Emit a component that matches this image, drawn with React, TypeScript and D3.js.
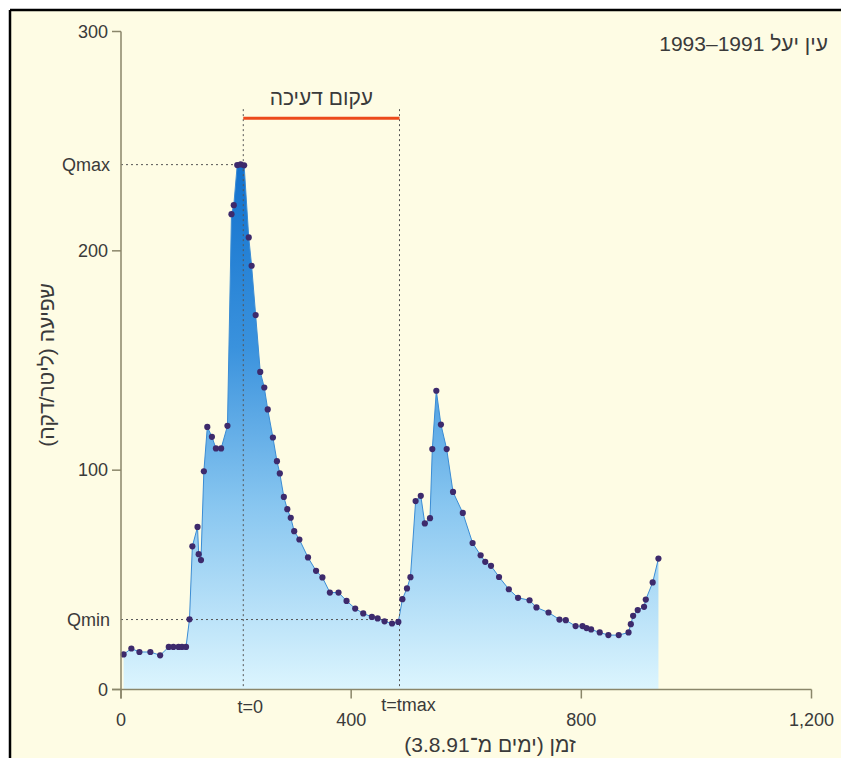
import React from 'react';
import * as d3 from 'd3';

// Days since 3.8.91
const days = [
  4.5, 18, 32, 51, 68, 83, 91, 100, 106, 113,
  119, 124, 133, 135, 139, 144, 150, 158, 165, 174,
  185, 192, 196, 202, 208, 214, 222, 227, 234, 242,
  249, 255, 264, 271, 276, 283, 289, 295, 301, 310,
  325, 339, 350, 363, 378, 392, 407, 421, 436, 446,
  458, 471, 482, 489, 497, 503, 512, 521, 528, 537,
  541, 548, 556, 566, 577, 594, 611, 625, 633, 643,
  657, 674, 690, 710, 722, 743, 762, 773, 790, 802,
  809, 817, 832, 847, 865, 882, 886, 890, 898, 909,
  912, 924, 934,
];
// Discharge (litre / minute)
const flows = [
  16.0, 18.7, 17.1, 17.1, 15.6, 19.4, 19.4, 19.4, 19.4, 19.4,
  32.0, 65.3, 74.1, 61.7, 59.0, 99.5, 119.7, 115.2, 109.9, 109.9,
  120.2, 216.7, 220.8, 239.1, 239.4, 239.0, 206.1, 193.2, 170.7, 144.8,
  137.7, 127.7, 114.9, 104.1, 98.5, 87.8, 82.2, 78.3, 72.2, 68.4,
  60.2, 54.1, 51.1, 44.2, 44.2, 40.4, 36.9, 34.7, 33.1, 32.4,
  31.1, 30.1, 30.8, 41.2, 46.1, 51.2, 85.9, 88.3, 75.7, 78.1,
  109.6, 136.2, 120.8, 109.6, 90.1, 80.5, 66.8, 61.2, 58.2, 56.4,
  51.3, 45.7, 41.8, 40.7, 37.4, 35.1, 31.9, 31.6, 28.9, 28.9,
  28.0, 27.4, 26.0, 24.8, 24.8, 26.0, 29.8, 33.6, 36.2, 37.7,
  41.0, 48.8, 59.7,
];

const xTicks = [0, 400, 800, 1200];
const xTickLabels = ['0', '400', '800', '1,200'];
const yTicks = [0, 100, 200, 300];
const yTickLabels = ['0', '100', '200', '300'];

const qMax = 239.3;
const qMin = 31.9;
const t0 = 212.5;
const tMax = 484;
const decayLevel = 260.5;

const title = 'עין יעל 1991–1993';
const decayLabel = 'עקום דעיכה';
const xTitle = 'זמן (ימים מ־3.8.91)';
const yTitle = 'שפיעה (ליטר/דקה)';

const FONT = '"Liberation Sans Narrow", "Liberation Sans", Arial, sans-serif';
const HFONT = '"Liberation Sans", "DejaVu Sans", Arial, sans-serif';
const TXT = '#3a3a3a';
const AXIS = '#8a866a';

export default function App() {
  const W = 841;
  const H = 758;
  const x = d3.scaleLinear().domain([0, 1200]).range([121, 811.5]);
  const y = d3.scaleLinear().domain([0, 300]).range([689.5, 31.5]);
  const data = days.map((d, i) => ({ d, q: flows[i] }));

  const area = d3
    .area<{ d: number; q: number }>()
    .x((p) => x(p.d))
    .y0(y(0))
    .y1((p) => y(p.q));
  const line = d3
    .line<{ d: number; q: number }>()
    .x((p) => x(p.d))
    .y((p) => y(p.q));

  const tick = 9;

  return (
    <svg
      width={W}
      height={H}
      style={{ position: 'absolute', left: 0, top: 0, display: 'block' }}
    >
      <defs>
        <linearGradient
          id="flowGrad"
          gradientUnits="userSpaceOnUse"
          x1={0}
          x2={0}
          y1={y(240)}
          y2={y(0)}
        >
          <stop offset="0%" stopColor="#1271cd" />
          <stop offset="35%" stopColor="#3a92dd" />
          <stop offset="65%" stopColor="#88c6f0" />
          <stop offset="100%" stopColor="#dcf5fe" />
        </linearGradient>
      </defs>
      <rect x={0} y={0} width={W} height={H} fill="#ffffff" />
      <rect x={10} y={10} width={W - 10} height={H - 10} fill="#fefce4" />
      <line x1={10} x2={W} y1={10} y2={10} stroke="#000" strokeWidth={2.5} />
      <line x1={10} x2={10} y1={10} y2={H} stroke="#000" strokeWidth={2.5} />

      {/* area */}
      <path d={area(data) || ''} fill="url(#flowGrad)" />
      <path d={line(data) || ''} fill="none" stroke="#3b8cd4" strokeWidth={1} />

      {/* reference dotted lines */}
      <g stroke="#555" strokeWidth={1} strokeDasharray="2,3" fill="none">
        <line x1={x(0)} x2={x(t0) - 4} y1={y(qMax)} y2={y(qMax)} />
        <line x1={x(0)} x2={x(tMax)} y1={y(qMin)} y2={y(qMin)} />
        <line x1={x(t0)} x2={x(t0)} y1={y(decayLevel) - 9} y2={y(0)} />
        <line x1={x(tMax)} x2={x(tMax)} y1={y(decayLevel) - 9} y2={y(0)} />
      </g>

      {/* decay bar */}
      <line
        x1={x(t0)}
        x2={x(tMax)}
        y1={y(decayLevel)}
        y2={y(decayLevel)}
        stroke="#ec4a1c"
        strokeWidth={3}
      />
      <text
        x={(x(t0) + x(tMax)) / 2}
        y={y(decayLevel) - 13}
        textAnchor="middle"
        fontFamily={HFONT}
        fontSize={21}
        fill={TXT}
        direction="rtl"
      >
        {decayLabel}
      </text>

      {/* points */}
      <g fill="#3d2a6c">
        {data.map((p, i) => (
          <circle key={i} cx={x(p.d)} cy={y(p.q)} r={3.1} />
        ))}
      </g>

      {/* axes */}
      <g stroke={AXIS} strokeWidth={1.5}>
        <line x1={x(0) - tick} x2={x(1200)} y1={y(0)} y2={y(0)} />
        <line x1={x(0)} x2={x(0)} y1={y(300)} y2={y(0) + tick} />
        {xTicks.map((t) => (
          <line key={'xt' + t} x1={x(t)} x2={x(t)} y1={y(0)} y2={y(0) + tick} />
        ))}
        {yTicks.map((t) => (
          <line key={'yt' + t} x1={x(0) - tick} x2={x(0)} y1={y(t)} y2={y(t)} />
        ))}
      </g>

      <g fontFamily={FONT} fontSize={18} fill={TXT}>
        {xTicks.map((t, i) => (
          <text key={'xl' + t} x={x(t)} y={y(0) + 36} textAnchor="middle">
            {xTickLabels[i]}
          </text>
        ))}
        {yTicks.map((t, i) => (
          <text key={'yl' + t} x={x(0) - 13} y={y(t) + 6} textAnchor="end">
            {yTickLabels[i]}
          </text>
        ))}
        <text x={x(0) - 11} y={y(qMax) + 6} textAnchor="end">Qmax</text>
        <text x={x(0) - 11} y={y(qMin) + 6} textAnchor="end">Qmin</text>
        <text x={x(t0) + 7} y={y(0) + 23} textAnchor="middle">t=0</text>
        <text x={x(tMax) + 9} y={y(0) + 21} textAnchor="middle">t=tmax</text>
      </g>

      <text
        x={828}
        y={51}
        textAnchor="start"
        direction="rtl"
        fontFamily={HFONT}
        fontSize={21}
        fill={TXT}
      >
        {title}
      </text>
      <text
        x={490}
        y={752}
        textAnchor="middle"
        direction="rtl"
        fontFamily={HFONT}
        fontSize={21}
        fill={TXT}
      >
        {xTitle}
      </text>
      <text
        transform={`translate(54, 365) rotate(-90)`}
        textAnchor="middle"
        direction="rtl"
        fontFamily={HFONT}
        fontSize={21}
        fill={TXT}
      >
        {yTitle}
      </text>
    </svg>
  );
}
